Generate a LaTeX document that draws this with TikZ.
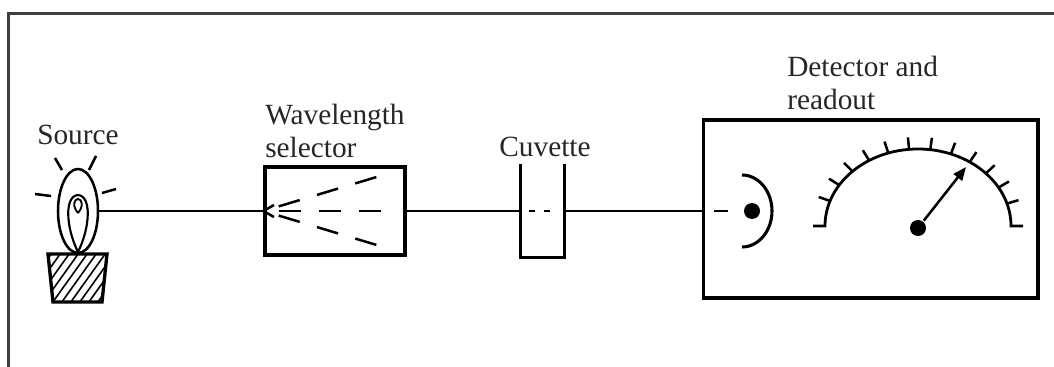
\documentclass[tikz,border=0pt]{standalone}
\usepackage{fontspec}
\setmainfont{Liberation Serif}
\usetikzlibrary{shapes.geometric,arrows.meta}

\tikzset{every picture/.style={line width=1.9pt}}
\tikzset{
  label text/.style={inner sep=0pt, font=\fontsize{22}{25}\selectfont, text=black!85},
  unit box/.style={draw, rectangle, inner sep=0pt, line width=2.5pt},
  dot/.style={circle, fill, inner sep=0pt},
  fan/.style={dash pattern=on 16.5pt off 13.5pt, dash phase=18pt}
}

\begin{document}
\begin{tikzpicture}[x=0.75pt,y=0.75pt,yscale=-1,xscale=1]
\useasboundingbox (0,0) rectangle (1054,367);

%Frame
\draw [color=black!75, line width=1.8pt] (8.5,367) -- (8.5,13.5) -- (1054,13.5) ;

%Shape: Ellipse [bulb]
\node [draw, ellipse, inner sep=0pt, minimum width=30pt, minimum height=63pt] (bulb) at (78,211) {};
%Curve Lines [filament]
\draw [line width=1.6pt] (78,252) .. controls (66,228) and (64,196) .. (78,195) .. controls (92,196) and (90,228) .. (78,252) ;
\draw [line width=1.4pt] (78,213) .. controls (72,206) and (74,199) .. (78,199) .. controls (82,199) and (84,206) .. (78,213) ;
%Straight Lines [rays]
\draw (55,158) -- (62,170) ;
\draw (96,156) -- (89,170) ;
\draw (35,194) -- (51,196) ;
\draw (102,193) -- (116,189) ;
%Shape: Trapezoid [lamp base]
\begin{scope}
\clip (48,254) -- (107,254) -- (102,302) -- (53,302) -- cycle ;
\foreach \i in {0,...,10}
  \draw [line width=1.2pt] ({14+9*\i},306) -- ({54+9*\i},250) ;
\end{scope}
\draw [line width=2.5pt] (48,254) -- (107,254) -- (102,302) -- (53,302) -- cycle ;

% Text Node
\node [label text, anchor=base] (srcLabel) at (78,145) {Source};

%Shape: Rectangle [wavelength selector]
\node [unit box, minimum width=105pt, minimum height=66pt] (sel) at (335,211) {};
\draw [fan] (sel.west) -- (390,173) ;
\draw [fan] (sel.west) -- (395,211) ;
\draw [fan] (sel.west) -- (390,249) ;
\draw (274,205) -- (sel.west) -- (274,217) ;

% Text Node
\node [label text, anchor=north west, align=left] (selLabel) at (264,103) {Wavelength\\selector};

%Shape: Cuvette
\node [inner sep=0pt, minimum width=31pt, minimum height=68pt] (cuv) at (542.5,211) {};
\draw [line width=2.5pt] (cuv.north west) -- (cuv.south west) -- (cuv.south east) -- (cuv.north east) ;
\draw [dash pattern=on 4.5pt off 7pt] (529,211) -- (554,211) ;

% Text Node
\node [label text, anchor=base] (cuvLabel) at (545,157) {Cuvette};

%Shape: Rectangle [detector and readout]
\node [unit box, minimum width=251pt, minimum height=133.5pt] (det) at (870.5,209) {};

% Text Node
\node [label text, anchor=north west, align=left] (detLabel) at (786,55) {Detector and\\readout};

%Straight Lines [beam]
\draw (bulb.east) -- (sel.west) ;
\draw (sel.east) -- (cuv.west) ;
\draw (cuv.east) -- (cuv.east -| det.west) ;
\draw ([xshift=9pt]cuv.east -| det.west) -- ([xshift=20pt]cuv.east -| det.west) ;

%Detector
\node [dot, minimum size=12pt] (sensor) at (752,211) {};
\draw [line width=2.3pt] (742,175) arc [start angle=-90, end angle=90, x radius=30, y radius=36] ;

%Meter scale
\draw [line width=2.1pt] (813,226) -- (825,226) arc [start angle=180, end angle=360, x radius=93, y radius=77] -- (1023,226) ;
\foreach \k in {0,...,11} {
  \pgfmathsetmacro\a{161-13.1*\k}
  \draw ({918+93*cos(\a)},{226-77*sin(\a)}) -- ({918+105*cos(\a)},{226-89*sin(\a)}) ;
}

%Needle
\node [dot, minimum size=12pt] (pivot) at (918,228) {};
\coordinate (tip) at (966,167);
\draw [-{Triangle[length=10pt,width=8pt]}] (pivot) -- (tip) ;

\end{tikzpicture}
\end{document}
